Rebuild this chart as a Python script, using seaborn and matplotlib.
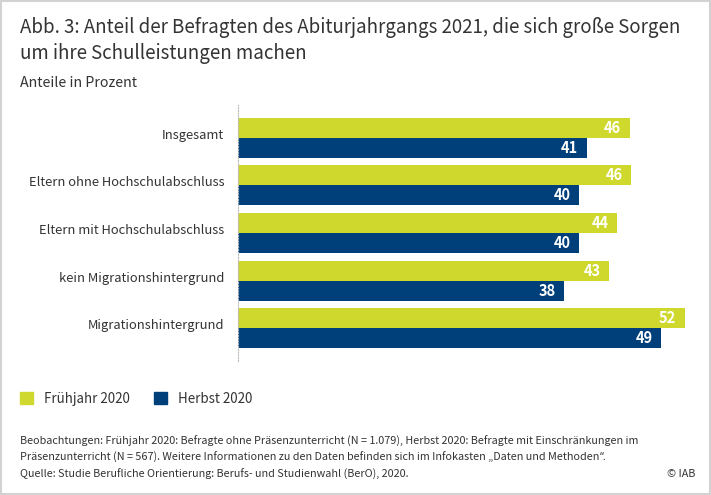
import pandas as pd
import matplotlib.pyplot as plt
import seaborn as sns
from matplotlib.transforms import ScaledTranslation

categories = ['Insgesamt', 'Eltern ohne Hochschulabschluss', 'Eltern mit Hochschulabschluss',
              'kein Migrationshintergrund', 'Migrationshintergrund']
fruehjahr = [45.6, 45.8, 44.1, 43.2, 52.0]
herbst = [40.6, 39.7, 39.7, 38.0, 49.3]
series_names = ['Frühjahr 2020', 'Herbst 2020']

W, H = 711, 495
GREEN = '#cfd82d'
BLUE = '#00407a'
TEXT = '#333333'

sns.set_theme(style='white')
# Latin glyphs of Noto Sans CJK are the closest to the original's typeface
plt.rcParams['font.family'] = ['Noto Sans CJK SC', 'DejaVu Sans']

df = pd.DataFrame({'Kategorie': categories * 2,
                   'Wert': fruehjahr + herbst,
                   'Zeitpunkt': [series_names[0]] * 5 + [series_names[1]] * 5})

fig = plt.figure(figsize=(W / 100, H / 100), dpi=100, facecolor='white')
ax = fig.add_axes([237.5 / W, 1 - 361 / H, (711 - 237.5) / W, (361 - 105) / H])

sns.barplot(data=df, x='Wert', y='Kategorie', hue='Zeitpunkt', order=categories,
            hue_order=series_names, palette=[GREEN, BLUE], width=0.842, gap=0,
            saturation=1, linewidth=0, ax=ax, legend=False)

ax.set_xlim(0, 473.5 / 8.6)
ax.set_ylim(4.693, -0.692)
ax.set_xlabel('')
ax.set_ylabel('')
ax.set_xticks([])
ax.tick_params(axis='y', length=0, pad=9.5, labelsize=9.35, labelcolor=TEXT)
for lab in ax.get_yticklabels():
    lab.set_verticalalignment('center')
    lab.set_transform(lab.get_transform() + ScaledTranslation(0, 2.5 / 100, fig.dpi_scale_trans))
sns.despine(ax=ax, top=True, right=True, bottom=True, left=False)
ax.spines['left'].set_linestyle((0, (1, 1.5)))
ax.spines['left'].set_linewidth(0.8)
ax.spines['left'].set_color('#bdbdbd')

for cont in ax.containers:
    labels = ax.bar_label(cont, fmt='%.0f', padding=-6, color='white', fontsize=10.5, fontweight='bold')
    for t in labels:
        t.set_ha('right')

# Title and subtitle
fig.text(20 / W, 1 - 28 / H, 'Abb. 3: Anteil der Befragten des Abiturjahrgangs 2021, die sich große Sorgen',
         fontsize=13.45, color=TEXT, va='center')
fig.text(20 / W, 1 - 53.5 / H, 'um ihre Schulleistungen machen', fontsize=13.45, color=TEXT, va='center')
fig.text(20 / W, 1 - 83 / H, 'Anteile in Prozent', fontsize=10.25, color=TEXT, va='center')

# Legend
fig.patches.append(plt.Rectangle((20 / W, 1 - 404 / H), 13 / W, 12 / H, color=GREEN, transform=fig.transFigure))
fig.patches.append(plt.Rectangle((154 / W, 1 - 404 / H), 13 / W, 12 / H, color=BLUE, transform=fig.transFigure))
fig.text(44 / W, 1 - 399 / H, series_names[0], fontsize=9.6, color=TEXT, va='center')
fig.text(178 / W, 1 - 399 / H, series_names[1], fontsize=9.6, color=TEXT, va='center')

# Footer
foot = ['Beobachtungen: Frühjahr 2020: Befragte ohne Präsenzunterricht (N = 1.079), Herbst 2020: Befragte mit Einschränkungen im',
        'Präsenzunterricht (N = 567). Weitere Informationen zu den Daten befinden sich im Infokasten „Daten und Methoden',
        'Quelle: Studie Berufliche Orientierung: Berufs- und Studienwahl (BerO), 2020.']
foot_texts = [fig.text(20 / W, 1 - y / H, line, fontsize=7.78, color=TEXT, va='center')
              for y, line in zip([441, 457, 474], foot)]
# the CJK closing quote is full width, so it comes from Noto Sans
ax.annotate('“.', xy=(1, 0.5), xycoords=foot_texts[1], fontsize=7.78, color=TEXT, va='center',
            family='Noto Sans', annotation_clip=False)
fig.text(695 / W, 1 - 474 / H, '© IAB', fontsize=7.78, color=TEXT, va='center', ha='right')

# Outer frame
fig.patches.append(plt.Rectangle((1 / W, 1 / H), 1 - 2 / W, 1 - 2 / H, fill=False,
                                 edgecolor='#d2d2d2', linewidth=1.5, transform=fig.transFigure))

fig.savefig('out.png', dpi=100)
